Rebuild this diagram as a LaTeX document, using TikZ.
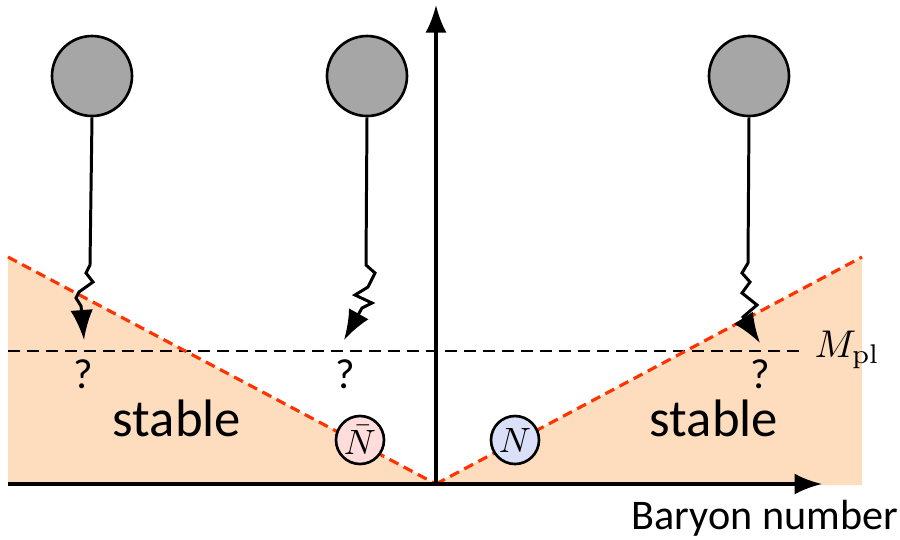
\documentclass[tikz,border=0pt]{standalone}
\usepackage{fontspec}
\setsansfont{Carlito}
\usetikzlibrary{arrows.meta}
\definecolor{peach}{RGB}{253,221,190}
\definecolor{vred}{RGB}{255,51,0}
\definecolor{ballgray}{RGB}{166,166,166}
\definecolor{nbarpink}{RGB}{255,221,221}
\definecolor{nblue}{RGB}{218,224,248}
\tikzset{
  ball/.style={circle,draw=black,line width=1.5pt,fill=ballgray,minimum size=80*0.02cm,inner sep=0pt},
  particle/.style={circle,draw=black,line width=1.5pt,minimum size=0.96cm/2,inner sep=0pt,scale=2},
  axis/.style={line width=1.8pt,-{Latex[length=0.55cm,width=0.42cm]}},
  decay/.style={line width=1.7pt,-{Latex[length=0.6cm,width=0.45cm]}},
  vline/.style={vred,line width=1.8pt,dash pattern=on 0.2cm off 0.12cm},
  mline/.style={black,line width=1.6pt,dash pattern=on 0.24cm off 0.14cm},
  qmark/.style={font=\sffamily\fontsize{24}{26}\selectfont},
  bigtext/.style={font=\sffamily\fontsize{30}{34}\selectfont}
}
\begin{document}
\begin{tikzpicture}[x=0.02cm,y=-0.02cm]
\useasboundingbox (0,0) rectangle (900,539);
% stable region
\fill[peach] (8,257) -- (436,484) -- (862,257) -- (862,485) -- (8,485) -- cycle;
% coordinates
\coordinate (o) at (436,484);
\coordinate (lt) at (8,257);
\coordinate (rt) at (862,257);
\coordinate (xl) at (8,484);
\coordinate (xr) at (822,484);
\coordinate (yt) at (436,5);
\coordinate (ml) at (8,351);
\coordinate (mr) at (800,351);
% M_pl line
\draw[mline] (ml) -- (mr);
\node[anchor=west,scale=2.2,inner sep=1pt] (mpl) at (810,350) {$M_{\mathrm{pl}}$};
% V lines
\draw[vline] (lt) -- (o);
\draw[vline] (o) -- (rt);
% axes
\draw[axis] (xl) -- (xr);
\draw[axis] (o) -- (yt);
\node[font=\sffamily\fontsize{24}{26}\selectfont] (bn) at (765,518) {Baryon number};
% balls
\node[ball] (b1) at (92,76) {};
\node[ball] (b2) at (367,76) {};
\node[ball] (b3) at (749,76) {};
% arrow tips
\coordinate (t1) at (84,340);
\coordinate (t2) at (344,340);
\coordinate (t3) at (760,343);
% decays
\draw[decay] (b1.south) -- (90,265) -- (86,273) -- (93,282) -- (79,292) -- (76,298) -- (81,306) -- (82,314) -- (t1);
\draw[decay] (b2.south) -- (366,265) -- (375,273) -- (368,287) -- (355,295) -- (372,303) -- (362,308) -- (t2);
\draw[decay] (b3.south) -- (748,263) -- (742,273) -- (750,282) -- (742,293) -- (757,305) -- (743,317) -- (t3);
% question marks
\node[qmark] (q1) at (83,374) {?};
\node[qmark] (q2) at (345,374) {?};
\node[qmark] (q3) at (760,374) {?};
% stable labels
\node[bigtext] (s1) at (177,418) {stable};
\node[bigtext] (s2) at (714,418) {stable};
% particles
\node[particle,fill=nbarpink] (nbar) at (360,440) {$\bar{N}$};
\node[particle,fill=nblue] (n) at (515,440) {$N$};
\end{tikzpicture}
\end{document}
